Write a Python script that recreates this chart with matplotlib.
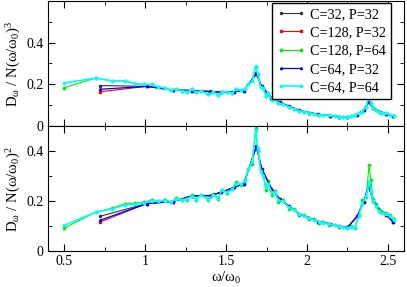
import matplotlib
matplotlib.use("Agg")
import matplotlib.pyplot as plt
from matplotlib.ticker import MultipleLocator, FuncFormatter

plt.rcParams["font.family"] = ["Liberation Serif", "DejaVu Serif"]
plt.rcParams["mathtext.fontset"] = "stix"

# P=32 runs (coarser frequency grid)
x32 = [0.72, 1.01, 1.17, 1.29, 1.40, 1.47, 1.55, 1.61, 1.687, 1.72, 1.78, 1.83, 1.89,
       1.95, 2.01, 2.07, 2.14, 2.20, 2.25, 2.31, 2.35, 2.38, 2.41, 2.45, 2.49, 2.53]
top_c32p32 = [0.194, 0.19, 0.173, 0.171, 0.166, 0.162, 0.165, 0.171, 0.250, 0.19, 0.136, 0.115,
              0.094, 0.075, 0.064, 0.056, 0.050, 0.045, 0.042, 0.055, 0.075, 0.114, 0.085,
              0.068, 0.058, 0.048]
top_c128p32 = [0.164, 0.19, 0.172, 0.170, 0.165, 0.162, 0.165, 0.170, 0.252, 0.19, 0.135, 0.115,
               0.094, 0.075, 0.064, 0.056, 0.050, 0.045, 0.042, 0.055, 0.075, 0.116, 0.085,
               0.068, 0.058, 0.047]
top_c64p32 = [0.176, 0.19, 0.172, 0.170, 0.165, 0.162, 0.165, 0.170, 0.251, 0.19, 0.135, 0.115,
              0.094, 0.075, 0.064, 0.056, 0.050, 0.045, 0.042, 0.055, 0.075, 0.116, 0.085,
              0.068, 0.058, 0.048]
bot_c32p32 = [0.139, 0.19, 0.198, 0.221, 0.222, 0.235, 0.255, 0.27, 0.416, 0.33, 0.25, 0.209,
              0.179, 0.15, 0.134, 0.117, 0.11, 0.10, 0.095, 0.139, 0.196, 0.26, 0.20, 0.16,
              0.145, 0.118]
bot_c128p32 = [0.116, 0.19, 0.198, 0.221, 0.222, 0.235, 0.255, 0.268, 0.420, 0.33, 0.25, 0.209,
               0.179, 0.15, 0.134, 0.117, 0.11, 0.10, 0.095, 0.139, 0.196, 0.262, 0.20, 0.16,
               0.145, 0.116]
bot_c64p32 = [0.123, 0.19, 0.198, 0.221, 0.222, 0.235, 0.255, 0.27, 0.419, 0.33, 0.25, 0.209,
              0.179, 0.15, 0.134, 0.117, 0.11, 0.10, 0.095, 0.139, 0.196, 0.262, 0.20, 0.16,
              0.145, 0.118]

# P=64 runs (finer frequency grid)
x64 = [0.5, 0.696, 0.798, 0.877, 0.94, 0.994, 1.04, 1.082, 1.123, 1.159, 1.193, 1.23, 1.261,
       1.292, 1.313, 1.344, 1.391, 1.42, 1.452, 1.473, 1.508, 1.539, 1.56, 1.591, 1.617, 1.638,
       1.662, 1.683, 1.696, 1.714, 1.73, 1.745, 1.76, 1.782, 1.80, 1.823, 1.85, 1.889, 1.92,
       1.951, 1.98, 2.012, 2.04, 2.074, 2.10, 2.136, 2.17, 2.198, 2.225, 2.249, 2.27, 2.296,
       2.32, 2.341, 2.366, 2.383, 2.395, 2.407, 2.425, 2.444, 2.465, 2.485, 2.51, 2.537]
top_c64p64 = [0.206, 0.23, 0.216, 0.216, 0.203, 0.199, 0.199, 0.187, 0.182, 0.171, 0.178, 0.168,
              0.165, 0.175, 0.162, 0.168, 0.152, 0.162, 0.149, 0.165, 0.162, 0.159, 0.175, 0.171,
              0.178, 0.2, 0.216, 0.29, 0.248, 0.187, 0.18, 0.146, 0.16, 0.127, 0.13, 0.111, 0.105,
              0.092, 0.082, 0.073, 0.068, 0.063, 0.058, 0.054, 0.053, 0.051, 0.047, 0.044, 0.043,
              0.041, 0.046, 0.052, 0.06, 0.068, 0.092, 0.145, 0.11, 0.084, 0.075, 0.068, 0.064,
              0.06, 0.054, 0.048]
top_c128p64 = [0.184, 0.23, 0.216, 0.216, 0.203, 0.199, 0.199, 0.187, 0.182, 0.171, 0.178, 0.168,
               0.165, 0.175, 0.162, 0.168, 0.152, 0.162, 0.149, 0.165, 0.162, 0.159, 0.175, 0.171,
               0.178, 0.2, 0.216, 0.285, 0.248, 0.187, 0.18, 0.146, 0.16, 0.127, 0.13, 0.111, 0.105,
               0.092, 0.082, 0.073, 0.068, 0.063, 0.058, 0.054, 0.053, 0.051, 0.047, 0.044, 0.043,
               0.041, 0.046, 0.052, 0.06, 0.068, 0.092, 0.14, 0.11, 0.084, 0.075, 0.068, 0.064,
               0.06, 0.054, 0.048]
bot_c64p64 = [0.103, 0.156, 0.169, 0.185, 0.187, 0.192, 0.202, 0.2, 0.202, 0.196, 0.209, 0.206,
              0.21, 0.221, 0.209, 0.223, 0.21, 0.225, 0.212, 0.243, 0.235, 0.247, 0.27, 0.267,
              0.28, 0.327, 0.36, 0.485, 0.413, 0.32, 0.30, 0.257, 0.27, 0.234, 0.237, 0.204, 0.2,
              0.175, 0.165, 0.15, 0.142, 0.132, 0.125, 0.117, 0.113, 0.109, 0.104, 0.099, 0.096,
              0.094, 0.095, 0.096, 0.14, 0.19, 0.22, 0.275, 0.24, 0.2, 0.18, 0.16, 0.152, 0.148,
              0.14, 0.125]
bot_c128p64 = [0.092, 0.156, 0.172, 0.19, 0.192, 0.195, 0.205, 0.2, 0.205, 0.196, 0.212, 0.206,
               0.205, 0.226, 0.206, 0.225, 0.205, 0.228, 0.208, 0.246, 0.232, 0.25, 0.275, 0.265,
               0.285, 0.33, 0.35, 0.49, 0.40, 0.33, 0.31, 0.245, 0.28, 0.225, 0.24, 0.198, 0.205,
               0.17, 0.168, 0.146, 0.145, 0.128, 0.127, 0.114, 0.115, 0.106, 0.106, 0.098, 0.097,
               0.093, 0.099, 0.094, 0.145, 0.205, 0.215, 0.344, 0.285, 0.21, 0.19, 0.17, 0.158,
               0.152, 0.145, 0.13]

series = [
    ("C=32, P=32", "#333333", "o", x32, top_c32p32, bot_c32p32, 0.8),
    ("C=128, P=32", "red", "s", x32, top_c128p32, bot_c128p32, 0.8),
    ("C=128, P=64", "#00ee00", "D", x64, top_c128p64, bot_c128p64, 0.8),
    ("C=64, P=32", "blue", "^", x32, top_c64p32, bot_c64p32, 0.9),
    ("C=64, P=64", "cyan", "s", x64, top_c64p64, bot_c64p64, 1.2),
]

fig = plt.figure(figsize=(4.07, 2.87), dpi=100)
ax1 = fig.add_axes([0.118, 0.561, 0.875, 0.436])
ax2 = fig.add_axes([0.118, 0.125, 0.875, 0.436])

for label, col, mk, xs, top, bot, lw in series:
    ax1.plot(xs, top, color=col, marker=mk, ms=1.5, lw=lw, label=label)
    ax2.plot(xs, bot, color=col, marker=mk, ms=1.5, lw=lw, label=label)

fmt = FuncFormatter(lambda v, p: f"{v:g}")
for ax, ymax in [(ax1, 0.6), (ax2, 0.5)]:
    ax.set_xlim(0.4, 2.6)
    ax.set_ylim(0, ymax)
    ax.xaxis.set_major_locator(MultipleLocator(0.5))
    ax.xaxis.set_minor_locator(MultipleLocator(0.25))
    ax.set_yticks([0, 0.2, 0.4])
    ax.yaxis.set_minor_locator(MultipleLocator(0.1))
    ax.xaxis.set_major_formatter(fmt)
    ax.yaxis.set_major_formatter(fmt)
    ax.tick_params(which="both", direction="in", top=True, right=True, labelsize=10)
    ax.tick_params(which="major", length=5, pad=3)
    ax.tick_params(which="minor", length=3)

ax1.tick_params(labelbottom=False)
ax1.set_ylabel(r"D$_\mathregular{ω}$ / N(ω/ω$_\mathregular{0}$)$^\mathregular{3}$",
               fontsize=10.5, labelpad=3)
ax2.set_ylabel(r"D$_\mathregular{ω}$ / N(ω/ω$_\mathregular{0}$)$^\mathregular{2}$",
               fontsize=10.5, labelpad=3)
ax2.set_xlabel(r"ω/ω$_\mathregular{0}$", fontsize=10.5, labelpad=1)

ax1.legend(loc="upper right", bbox_to_anchor=(0.962, 0.985), borderaxespad=0,
           fontsize=10.2, frameon=True, fancybox=False, edgecolor="black",
           handlelength=2.0, numpoints=2, handletextpad=0.3, labelspacing=0.38,
           borderpad=0.35, framealpha=1)

fig.savefig("out.png", dpi=100)
